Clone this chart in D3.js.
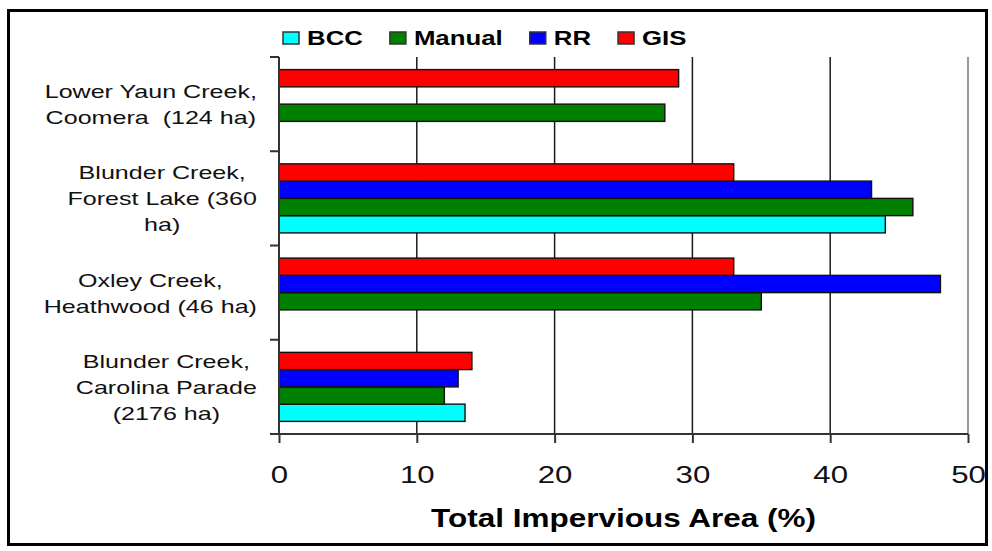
<!DOCTYPE html>
<html>
<head>
<meta charset="utf-8">
<script src="https://cdn.jsdelivr.net/npm/d3@7"></script>
<style>
  body { margin: 0; background: #fff; }
  svg { display: block; font-family: "Liberation Sans", Arial, sans-serif; }
</style>
</head>
<body>
<svg id="chart" width="992" height="551"></svg>
<script>
// categories, top to bottom
const categories = ["Lower Yaun", "Forest Lake", "Oxley", "Carolina"];
const categoryLines = [
    ["Lower Yaun Creek,", "Coomera  (124 ha)"],
    ["Blunder Creek,", "Forest Lake (360", "ha)"],
    ["Oxley Creek,", "Heathwood (46 ha)"],
    ["Blunder Creek,", "Carolina Parade", "(2176 ha)"]
];

// series (legend order)
const seriesNames = ["BCC", "Manual", "RR", "GIS"];
const seriesColors = ["#00ffff", "#008000", "#0000ff", "#ff0000"];
const bccValues = [null, 44, null, 13.5];
const manualValues = [28, 46, 35, 12];
const rrValues = [null, 43, 48, 13];
const gisValues = [29, 33, 33, 14];
const seriesValues = [bccValues, manualValues, rrValues, gisValues];

const xTicks = [0, 10, 20, 30, 40, 50];
const xTitle = "Total Impervious Area (%)";

let svg = d3.select("#chart");

// outer frame
svg.append("rect")
    .attr("x", 8.5).attr("y", 10.5)
    .attr("width", 978).attr("height", 534)
    .attr("fill", "none")
    .attr("stroke", "#000")
    .attr("stroke-width", 3);

let x = d3.scaleLinear().domain([0, 50]).range([279, 968]);
let y = d3.scaleBand().domain(categories).range([57, 434]);
// bars inside one category: GIS at the top, BCC at the bottom
let yInner = d3.scaleBand()
    .domain(seriesNames.slice().reverse())
    .range([0, y.bandwidth()])
    .paddingOuter(0.73);

// gridlines
svg.append("g").selectAll("line")
    .data(xTicks.slice(1, -1))
    .enter().append("line")
    .attr("x1", d => x(d)).attr("x2", d => x(d))
    .attr("y1", 57).attr("y2", 434)
    .attr("stroke", "#1a1a1a")
    .attr("stroke-width", 1.5);

// right edge of plot area
svg.append("line")
    .attr("x1", x(50)).attr("x2", x(50))
    .attr("y1", 57).attr("y2", 434)
    .attr("stroke", "#999")
    .attr("stroke-width", 2);

// bars
let bars = [];
seriesNames.forEach(function (s, i) {
    categories.forEach(function (c, j) {
        let v = seriesValues[i][j];
        if (v != null) bars.push({ series: s, cat: c, value: v, color: seriesColors[i] });
    });
});

svg.append("g").selectAll("rect")
    .data(bars)
    .enter().append("rect")
    .attr("x", x(0))
    .attr("y", d => y(d.cat) + yInner(d.series))
    .attr("width", d => x(d.value) - x(0))
    .attr("height", yInner.bandwidth())
    .attr("fill", d => d.color)
    .attr("stroke", "#111")
    .attr("stroke-width", 1.4);

// left axis with ticks on band edges
let leftAxis = svg.append("g");
leftAxis.append("line")
    .attr("x1", x(0)).attr("x2", x(0))
    .attr("y1", 57).attr("y2", 434)
    .attr("stroke", "#333").attr("stroke-width", 2);
leftAxis.selectAll(".tick")
    .data(categories.map(c => y(c)).concat([y.range()[1]]))
    .enter().append("line")
    .attr("x1", x(0) - 9).attr("x2", x(0))
    .attr("y1", d => d).attr("y2", d => d)
    .attr("stroke", "#333").attr("stroke-width", 2);

// bottom axis
let bottomAxis = svg.append("g")
    .attr("transform", "translate(0,434)")
    .call(d3.axisBottom(x).tickValues(xTicks).tickSize(9).tickSizeOuter(0));
bottomAxis.select(".domain").remove();
bottomAxis.append("line")
    .attr("x1", x(0) - 9).attr("x2", x(50))
    .attr("stroke", "#333").attr("stroke-width", 2);
bottomAxis.selectAll(".tick line").attr("stroke", "#333").attr("stroke-width", 2);
// the picture is stretched sideways, so text gets a horizontal scale
bottomAxis.selectAll(".tick text")
    .attr("y", 49).attr("dy", 0)
    .attr("fill", "#111")
    .attr("font-family", "'Liberation Sans', Arial, sans-serif")
    .attr("font-size", 24)
    .attr("transform", "scale(1.3,1)");

// category labels, block right aligned, lines centred
categoryLines.forEach(function (lines, j) {
    let g = svg.append("g");
    let mid = y(categories[j]) + y.bandwidth() / 2;
    let t = g.selectAll("text")
        .data(lines)
        .enter().append("text")
        .attr("x", 0)
        .attr("y", (d, i) => mid + (i - (lines.length - 1) / 2) * 26 + 7)
        .attr("text-anchor", "middle")
        .attr("font-size", 19)
        .attr("fill", "#111")
        .style("white-space", "pre")
        .text(d => d);
    let w = d3.max(t.nodes(), n => n.getComputedTextLength()) * 1.32;
    g.attr("transform", "translate(" + (257 - w / 2) + ",0) scale(1.32,1)");
});

// axis title
svg.append("g")
    .attr("transform", "translate(" + (x(0) + x(50)) / 2 + ",527) scale(1.26,1)")
    .append("text")
    .attr("text-anchor", "middle")
    .attr("font-size", 25)
    .attr("font-weight", "bold")
    .attr("fill", "#000")
    .text(xTitle);

// legend
let lx = 283;
seriesNames.forEach(function (s, i) {
    svg.append("rect")
        .attr("x", lx).attr("y", 32)
        .attr("width", 16).attr("height", 12)
        .attr("fill", seriesColors[i])
        .attr("stroke", "#333").attr("stroke-width", 1.5);
    let g = svg.append("g")
        .attr("transform", "translate(" + (lx + 24) + ",45) scale(1.29,1)");
    let t = g.append("text")
        .attr("font-size", 20)
        .attr("font-weight", "bold")
        .attr("fill", "#000")
        .text(s);
    lx = lx + 24 + t.node().getComputedTextLength() * 1.29 + 27;
});
</script>
</body>
</html>
